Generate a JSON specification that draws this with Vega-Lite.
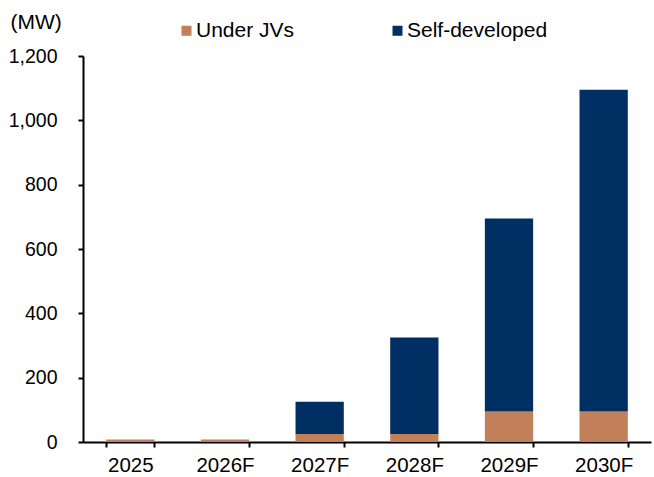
{
  "$schema": "https://vega.github.io/schema/vega-lite/v6.json",
  "width": 568,
  "height": 386,
  "autosize": {"type": "none"},
  "padding": {"left": 83, "top": 56, "right": 3, "bottom": 35},
  "background": "white",
  "config": {
    "view": {"stroke": null},
    "font": "Liberation Sans",
    "axis": {"grid": false, "domainColor": "black", "tickColor": "black", "domainWidth": 2, "tickWidth": 2, "labelFont": "Liberation Sans", "labelColor": "black"}
  },
  "data": {
    "values": [
      {"year": "2025", "series": "Under JVs", "mw": 8},
      {"year": "2025", "series": "Self-developed", "mw": 0},
      {"year": "2026F", "series": "Under JVs", "mw": 8},
      {"year": "2026F", "series": "Self-developed", "mw": 0},
      {"year": "2027F", "series": "Under JVs", "mw": 25},
      {"year": "2027F", "series": "Self-developed", "mw": 100},
      {"year": "2028F", "series": "Under JVs", "mw": 25},
      {"year": "2028F", "series": "Self-developed", "mw": 300},
      {"year": "2029F", "series": "Under JVs", "mw": 95},
      {"year": "2029F", "series": "Self-developed", "mw": 600},
      {"year": "2030F", "series": "Under JVs", "mw": 95},
      {"year": "2030F", "series": "Self-developed", "mw": 1000}
    ]
  },
  "mark": {"type": "bar"},
  "encoding": {
    "x": {
      "field": "year", "type": "nominal", "sort": null,
      "scale": {"paddingInner": 0.49, "paddingOuter": 0.245},
      "axis": {"title": null, "labelAngle": 0, "tickBand": "extent", "tickSize": 5, "labelPadding": 8, "labelFontSize": 20.5}
    },
    "y": {
      "field": "mw", "type": "quantitative", "stack": "zero",
      "scale": {"domain": [0, 1200], "nice": false},
      "axis": {"values": [0, 200, 400, 600, 800, 1000, 1200], "format": ",.0f", "tickSize": 5, "labelPadding": 21, "labelFontSize": 19.5,
        "title": "(MW)", "titleAngle": 0, "titleAlign": "left", "titleBaseline": "middle", "titleX": -73, "titleY": -34,
        "titleFont": "Liberation Sans", "titleFontSize": 21, "titleFontWeight": "normal", "titleColor": "black"}
    },
    "color": {
      "field": "series", "type": "nominal",
      "scale": {"domain": ["Under JVs", "Self-developed"], "range": ["#C17F5A", "#002F63"]},
      "legend": {"title": null, "orient": "none", "direction": "horizontal", "legendX": 93, "legendY": -36,
        "symbolType": "square", "symbolSize": 100, "symbolStrokeWidth": 0, "labelFontSize": 21, "labelFont": "Liberation Sans", "labelColor": "black",
        "labelOffset": -1, "columnPadding": 92, "padding": 0}
    },
    "order": {"field": "series", "sort": "descending"}
  }
}
